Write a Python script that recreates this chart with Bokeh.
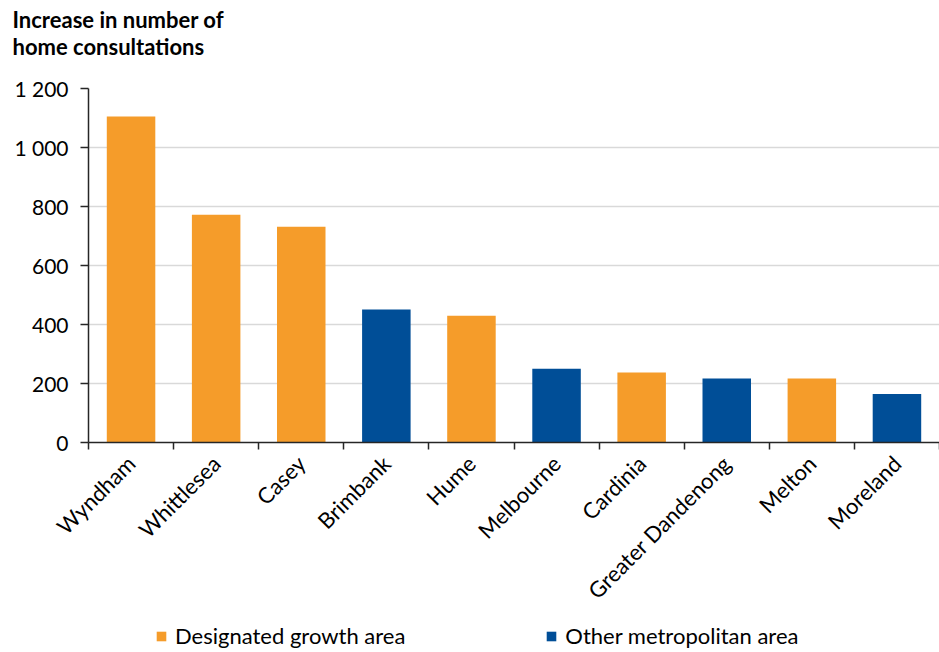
import math
from bokeh.plotting import figure
from bokeh.layouts import column
from bokeh.models import (ColumnDataSource, Range1d, FixedTicker, Legend, LegendItem)
from bokeh.embed import file_html
from bokeh.resources import INLINE

# ---- data ----
categories = ["Wyndham", "Whittlesea", "Casey", "Brimbank", "Hume",
              "Melbourne", "Cardinia", "Greater Dandenong", "Melton", "Moreland"]
values = [1105, 772, 731, 451, 430, 250, 237, 217, 217, 164]
groups = ["growth", "growth", "growth", "metro", "growth",
          "metro", "growth", "metro", "growth", "metro"]
group_names = {"growth": "Designated growth area", "metro": "Other metropolitan area"}
group_colors = {"growth": "#F59C2A", "metro": "#004E97"}
y_ticks = [0, 200, 400, 600, 800, 1000, 1200]
y_tick_labels = ["0", "200", "400", "600", "800", "1 000", "1 200"]
title_lines = ["Increase in number of", "home consultations"]

FONT = "Lato"
n = len(categories)
centers = [i + 0.5 for i in range(n)]
LEG_H = 34

p = figure(width=939, height=652 - LEG_H, output_backend="svg", toolbar_location=None,
           x_range=Range1d(0, n), y_range=Range1d(0, 1200),
           min_border_left=88, min_border_right=0, min_border_top=88,
           min_border_bottom=210 - LEG_H)
p.outline_line_color = None

sources = {}
renderers = {}
for g in ["growth", "metro"]:
    xs = [c for c, gg in zip(centers, groups) if gg == g]
    ys = [v for v, gg in zip(values, groups) if gg == g]
    sources[g] = ColumnDataSource(dict(x=xs, top=ys))
    renderers[g] = p.vbar(x="x", top="top", bottom=0, width=0.57, source=sources[g],
                          fill_color=group_colors[g], line_color=None)

# title (a trailing blank line keeps a gap between title and plot)
p.title.text = "\n".join(title_lines + ["\u00a0"])
p.title.text_font = FONT
p.title.text_font_size = "22px"
p.title.text_font_style = "bold"
p.title.text_color = "#000000"
p.title.align = "left"
p.title.offset = -76
p.title.standoff = 4

# y axis
yax = p.yaxis[0]
yax.ticker = FixedTicker(ticks=y_ticks)
yax.major_label_overrides = {t: l for t, l in zip(y_ticks, y_tick_labels)}
yax.major_label_text_font = FONT
yax.major_label_text_font_size = "21px"
yax.major_label_text_color = "#000000"
yax.axis_line_color = "#262626"
yax.axis_line_width = 1.5
yax.major_tick_line_color = "#262626"
yax.major_tick_line_width = 1.5
yax.major_tick_out = 8
yax.major_tick_in = 0
yax.minor_tick_line_color = None
yax.major_label_standoff = 12

# x axis
xax = p.xaxis[0]
xax.ticker = FixedTicker(ticks=centers, minor_ticks=list(range(n + 1)))
xax.major_label_overrides = {c: name for c, name in zip(centers, categories)}
xax.major_label_orientation = math.pi / 4
xax.major_label_text_font = FONT
xax.major_label_text_font_size = "22px"
xax.major_label_text_color = "#000000"
xax.axis_line_color = "#262626"
xax.axis_line_width = 1.5
xax.major_tick_line_color = None
xax.major_tick_out = 0
xax.major_tick_in = 0
xax.minor_tick_line_color = "#262626"
xax.minor_tick_line_width = 1.5
xax.minor_tick_out = 7
xax.minor_tick_in = 0
xax.major_label_standoff = 10

p.xgrid.grid_line_color = None
p.ygrid.ticker = FixedTicker(ticks=y_ticks)
p.ygrid.grid_line_color = "#D9D9D9"
p.ygrid.grid_line_width = 1.5

# legend in its own strip below the chart (its bars lie outside that strip's view)
lf = figure(width=939, height=LEG_H, output_backend="svg", toolbar_location=None,
            x_range=Range1d(-2 * n, -n), y_range=Range1d(0, 1200),
            x_axis_location=None, y_axis_location=None,
            min_border=0)
lf.outline_line_color = None
lf.xgrid.grid_line_color = None
lf.ygrid.grid_line_color = None
leg_items = []
for g in ["growth", "metro"]:
    r = lf.vbar(x="x", top="top", bottom=0, width=0.57, source=sources[g],
                fill_color=group_colors[g], line_color=None)
    leg_items.append(LegendItem(label=group_names[g], renderers=[r]))
legend = Legend(items=leg_items, orientation="horizontal", location=(67, 3),
                glyph_width=12, glyph_height=12, label_standoff=8, spacing=140,
                label_text_font=FONT, label_text_font_size="22px",
                label_text_color="#000000",
                border_line_color=None, background_fill_alpha=0,
                padding=0, margin=0)
lf.add_layout(legend, "center")

layout = column(p, lf, spacing=0)
open("out.html", "w").write(file_html(layout, INLINE))
